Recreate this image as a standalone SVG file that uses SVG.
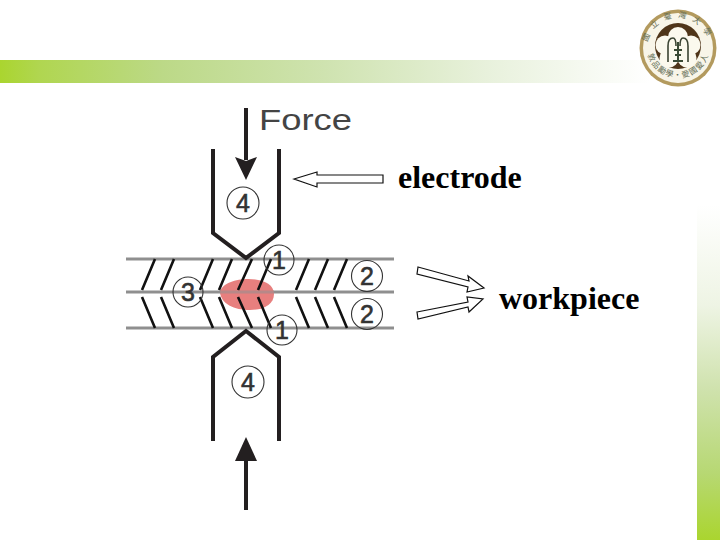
<svg xmlns="http://www.w3.org/2000/svg" width="720" height="540" viewBox="0 0 720 540">
<style>
.plate{stroke:#8f8f8f;stroke-width:3;fill:none}
.hatch{stroke:#111;stroke-width:2.6;fill:none}
.electrode{stroke:#231f20;stroke-width:4;fill:none;stroke-linejoin:miter}
.force{stroke:#231f20;stroke-width:4;fill:none}
.head{fill:#231f20}
.ring{fill:none;stroke:#333;stroke-width:1.1}
.num{font-family:"Liberation Sans",Arial,sans-serif;font-size:25px;fill:#333;stroke:#333;stroke-width:.6;text-anchor:middle}
.callout{fill:#fff;stroke:#111;stroke-width:1.2}
.label{font-family:"Liberation Serif","Times New Roman",serif;font-weight:bold;font-size:32px;fill:#000}
.seal{font-family:"Noto Sans CJK TC",sans-serif;font-size:8px;fill:#5f6b52}
</style>
<defs>
<linearGradient id="bandH" x1="0" y1="0" x2="1" y2="0">
<stop offset="0" stop-color="#aad52f"/><stop offset=".06" stop-color="#b0d650"/><stop offset=".25" stop-color="#bcd987"/><stop offset=".5" stop-color="#cfe3b0"/><stop offset=".75" stop-color="#e8f1dc"/><stop offset="1" stop-color="#ffffff"/>
</linearGradient>
<linearGradient id="bandV" x1="0" y1="0" x2="0" y2="1">
<stop offset="0" stop-color="#ffffff"/><stop offset=".3" stop-color="#eef4e4"/><stop offset=".55" stop-color="#cfe2ad"/><stop offset=".8" stop-color="#b7d873"/><stop offset="1" stop-color="#aad52f"/>
</linearGradient>
<path id="sealTop" d="M650 62A31 31 0 1 1 706 62"/>
<path id="sealBot" d="M647 52A31.500 31.500 0 0 0 709 52"/>
</defs>
<rect width="720" height="540" fill="#fff"/>
<rect x="0" y="60" width="650" height="23" fill="url(#bandH)"/>
<rect x="697" y="205" width="23" height="335" fill="url(#bandV)"/>

<g id="logo">
<circle cx="678" cy="48" r="38.500" fill="#b39a5e"/>
<circle cx="678" cy="48" r="35" fill="#f8f5e8"/>
<text class="seal"><textPath href="#sealTop" startOffset="50%" text-anchor="middle" letter-spacing="6">國立臺灣大學</textPath></text>
<text class="seal"><textPath href="#sealBot" startOffset="50%" text-anchor="middle" letter-spacing="1">敦品勵學・愛國愛人</textPath></text>
<circle cx="678" cy="46" r="23" fill="#4f3519"/>
<g fill="#fbf9ee">
<circle cx="678" cy="37" r="10"/><circle cx="665" cy="45" r="9.500"/><circle cx="691" cy="45" r="9.500"/><circle cx="669" cy="58" r="9.500"/><circle cx="687" cy="58" r="9.500"/><circle cx="678" cy="48" r="12"/>
</g>
<path d="M668 62V46Q668 38 673 38Q676 38 676 46M688 62V46Q688 38 683 38Q680 38 680 46" fill="none" stroke="#3b4433" stroke-width="1.600"/>
<path d="M674 50H682M678 42V60M673 61H683M675 55H681" fill="none" stroke="#3a4a35" stroke-width="2"/>
</g>

<g id="workpiece-plates">
<line class="plate" x1="126" y1="259" x2="394" y2="259"/>
<line class="plate" x1="126" y1="292" x2="394" y2="292"/>
<line class="plate" x1="126" y1="328" x2="394" y2="328"/>
</g>
<g id="weld-nugget"><path d="M220 292C222 283 236 279 248 279C262 279 274 284 274 294C274 304 264 310 250 310C234 310 221 304 220 292Z" fill="#e77f7e"/></g>
<line class="plate" x1="220" y1="292" x2="274" y2="292" stroke-opacity=".55"/>
<g id="hatching">
<path class="hatch" d="M142 290L155 259M161 290L174 259M200 290L213 259M219 290L232 259M238 290L252 259M258 290L271 259M296 290L309 259M315 290L328 259M334 290L347 259"/>
<path class="hatch" d="M142 297L155 328M161 297L174 328M200 297L213 328M219 297L232 328M238 297L252 328M258 297L271 328M296 297L309 328M315 297L328 328M334 297L347 328"/>
</g>
<g id="electrode-top"><path class="electrode" d="M213 149V233L246 258L279 233V149"/></g>
<g id="electrode-bottom"><path class="electrode" d="M213 441V357L246 331L279 357V441"/></g>

<g id="connectors">
<line class="force" x1="246" y1="108" x2="246" y2="160"/>
<path class="head" d="M235 157L246 161L257 157L246 180Z"/>
<line class="force" x1="246" y1="458" x2="246" y2="510"/>
<path class="head" d="M235 461L246 437L257 461Z"/>
<path class="callout" d="M294 179L317 172V175H383V183H317V187Z"/>
<path class="callout" d="M418 267L469 281L468 276L484 288L467 292L468 287L417 274Z"/>
<path class="callout" d="M417 312L468 302L467 297L483 299L469 312L468 307L418 319Z"/>
</g>

<g id="force-label"><text x="259" y="130" textLength="93" lengthAdjust="spacingAndGlyphs" font-family="'Liberation Sans',Arial,sans-serif" font-size="30" fill="#444">Force</text></g>
<g id="n4-top"><circle class="ring" cx="243" cy="203" r="16"/><text class="num" x="243" y="212">4</text></g>
<g id="n1-top"><circle class="ring" cx="279" cy="260" r="15"/><text class="num" x="279" y="269">1</text></g>
<g id="n2-top"><circle class="ring" cx="367" cy="276" r="15.500"/><text class="num" x="367" y="285">2</text></g>
<g id="n3"><circle class="ring" cx="188" cy="292" r="15"/><text class="num" x="188" y="301">3</text></g>
<g id="n2-bottom"><circle class="ring" cx="367" cy="314" r="15.500"/><text class="num" x="367" y="323">2</text></g>
<g id="n1-bottom"><circle class="ring" cx="282" cy="330" r="15"/><text class="num" x="282" y="339">1</text></g>
<g id="n4-bottom"><circle class="ring" cx="248" cy="382" r="16"/><text class="num" x="248" y="391">4</text></g>

<g id="electrode-label"><text class="label" x="398" y="188">electrode</text></g>
<g id="workpiece-label"><text class="label" x="499" y="309">workpiece</text></g>
</svg>
